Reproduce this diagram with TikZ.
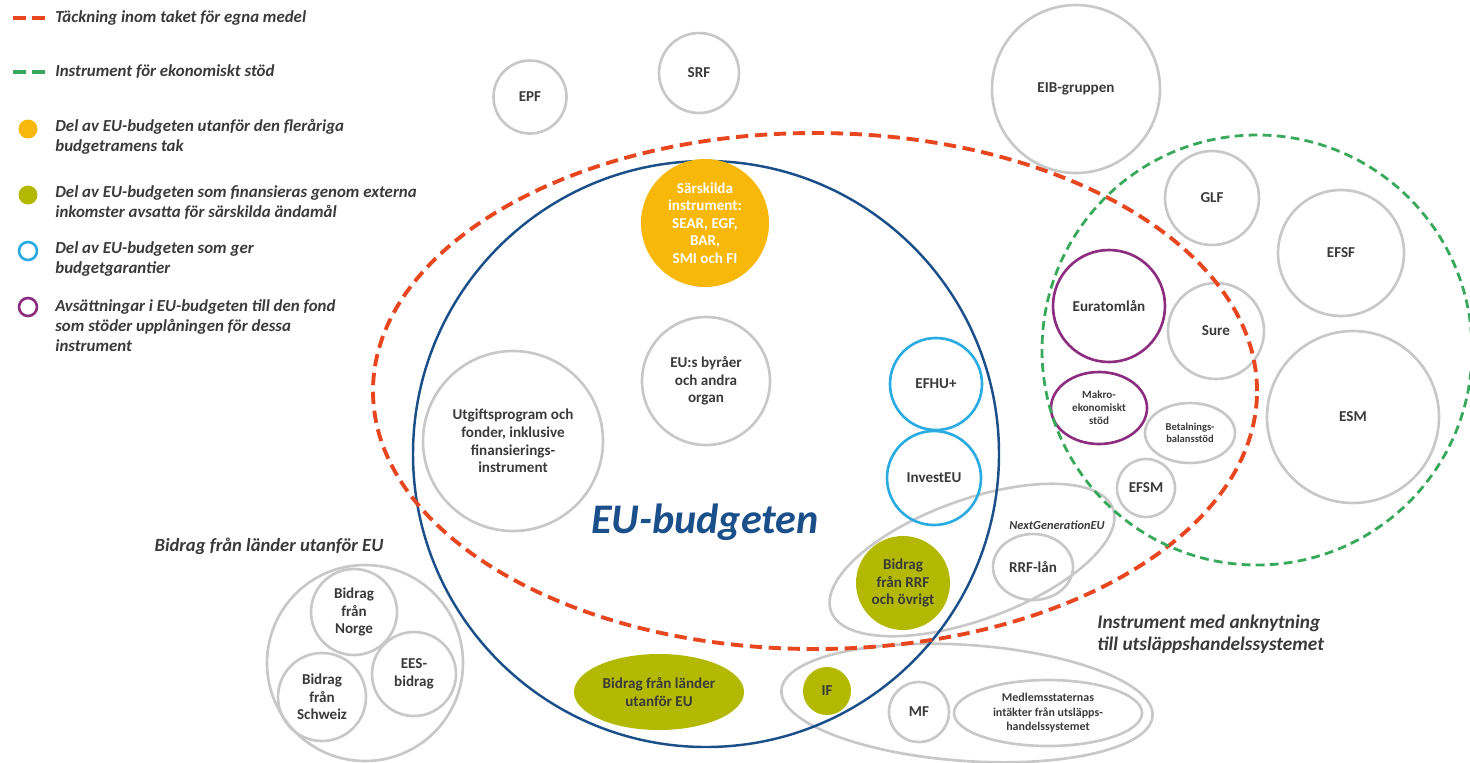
\documentclass[tikz,border=0pt]{standalone}
\usepackage{fontspec}
\setmainfont{Carlito}
\usepackage{xcolor}
\usetikzlibrary{shapes.geometric}
\definecolor{txtgray}{HTML}{3A3A3A}
\definecolor{ringgray}{HTML}{C8C8C8}
\definecolor{eublue}{HTML}{1B4F8A}
\definecolor{ceilred}{HTML}{E8461E}
\definecolor{aidgreen}{HTML}{38A95A}
\definecolor{specorange}{HTML}{F8B80A}
\definecolor{extolive}{HTML}{B3B900}
\definecolor{guarcyan}{HTML}{2AACE2}
\definecolor{provpurple}{HTML}{8D2D7F}

\begin{document}
\begin{tikzpicture}[x=0.02cm, y=-0.02cm,
            dia/.style={minimum size=#1*0.02cm},
            oval/.style 2 args={ellipse, minimum width=#1*0.02cm, minimum height=#2*0.02cm},
            ring/.style={draw=ringgray, line width=1.5pt, circle, inner sep=0pt, align=center, text=txtgray, font=\fontsize{8.6}{10}\selectfont\bfseries},
            small/.style={font=\fontsize{6.3}{7.4}\selectfont\bfseries},
            blob/.style={ring, draw=none},
            ceil/.style={draw=ceilred, line width=2.2pt, dash pattern=on 7pt off 3.8pt},
            aid/.style={draw=aidgreen, line width=1.6pt, dash pattern=on 5pt off 3pt},
            legdash/.style={line width=2.2pt, dash pattern=on 7.4pt off 3.4pt},
            legtext/.style={anchor=west, align=left, inner sep=0pt, text=txtgray, font=\fontsize{9.6}{11.4}\selectfont\bfseries\itshape},
            grouptext/.style={align=left, inner sep=0pt, text=txtgray, font=\fontsize{11}{12.5}\selectfont\bfseries\itshape}]
    \useasboundingbox (0,0) rectangle (1470,762);

    % legend
    \draw[ceil, legdash] (13,18) -- (45,18);
    \node[legtext] (legceil) at (55,18) {Täckning inom taket för egna medel};
    \draw[aid, legdash] (13,72) -- (45,72);
    \node[legtext] (legaid) at (55,72) {Instrument för ekonomiskt stöd};
    \node[circle, fill=specorange, inner sep=0pt, dia=19] (legspec) at (28,129) {};
    \node[legtext] (legspect) at (55,137) {Del av EU-budgeten utanför den fleråriga\\budgetramens tak};
    \node[circle, fill=extolive, inner sep=0pt, dia=19] (legext) at (28,195) {};
    \node[legtext] (legextt) at (55,203) {Del av EU-budgeten som finansieras genom externa\\inkomster avsatta för särskilda ändamål};
    \node[circle, draw=guarcyan, line width=1.5pt, inner sep=0pt, dia=18] (legguar) at (28,251) {};
    \node[legtext] (legguart) at (55,259) {Del av EU-budgeten som ger\\budgetgarantier};
    \node[circle, draw=provpurple, line width=1.5pt, inner sep=0pt, dia=18] (legprov) at (28,307) {};
    \node[legtext] (legprovt) at (55,326) {Avsättningar i EU-budgeten till den fond\\som stöder upplåningen för dessa\\instrument};

    % containers
    \node[ring, dia=196] (thirdc) at (365,663) {};
    \node[ring, oval={300}{120}, rotate=20] (ngeu) at (972,560) {};
    \node[ring, oval={372}{116}, rotate=-4] (etsgrp) at (967,703) {};
    \node[circle, draw=eublue, line width=1.4pt, dia=586] (eub) at (706,454) {};
    \node[text=eublue, font=\fontsize{24}{27}\selectfont\bfseries\itshape] (eubt) at (705,522) {EU-budgeten};

    % outside the budget
    \node[ring, dia=73] (epf) at (530,97) {EPF};
    \node[ring, dia=80] (srf) at (699,73) {SRF};
    \node[ring, dia=168] (eib) at (1076,89) {EIB-gruppen};

    % inside the budget
    \node[blob, fill=specorange, text=white, dia=128] (spec) at (705,223) {Särskilda\\instrument:\\SEAR, EGF,\\BAR,\\SMI och FI};
    \node[ring, dia=128] (agencies) at (706,381) {EU:s byråer\\och andra\\organ};
    \node[ring, dia=180] (progs) at (513,441) {Utgiftsprogram och\\fonder, inklusive\\finansierings-\\instrument};
    \node[ring, draw=guarcyan, dia=92] (efhu) at (936,384) {EFHU+};
    \node[ring, draw=guarcyan, dia=94] (invest) at (934,478) {InvestEU};
    \node[blob, fill=extolive, dia=94] (rrfgr) at (903,583) {Bidrag\\från RRF\\och övrigt};
    \node[blob, fill=extolive, oval={170}{76}] (thirdb) at (659,692) {Bidrag från länder\\utanför EU};
    \node[ring, oval={80}{66}] (rrfloan) at (1033,567) {RRF-lån};
    \node[text=txtgray, font=\fontsize{7}{8}\selectfont\bfseries\itshape] (ngeut) at (1057,525) {NextGenerationEU};

    % third countries
    \node[grouptext, font=\fontsize{10.6}{12}\selectfont\bfseries\itshape] (thirdt) at (269,546) {Bidrag från länder utanför EU};
    \node[ring, dia=86] (norway) at (354,612) {Bidrag\\från\\Norge};
    \node[ring, dia=84] (eea) at (414,674) {EES-\\bidrag};
    \node[ring, dia=88] (swiss) at (322,697) {Bidrag\\från\\Schweiz};

    % emissions trading
    \node[blob, fill=extolive, dia=48] (innov) at (827,691) {IF};
    \node[ring, dia=60] (modern) at (919,712) {MF};
    \node[ring, small, oval={188}{66}, font=\fontsize{6.8}{8.2}\selectfont\bfseries] (msrev) at (1048,713) {Medlemsstaternas\\intäkter från utsläpps-\\handelssystemet};
    \node[grouptext, anchor=west] (etst) at (1097,634) {Instrument med anknytning\\till utsläppshandelssystemet};

    % financial assistance
    \node[ring, dia=94] (glf) at (1212,198) {GLF};
    \node[ring, dia=126] (efsf) at (1341,253) {EFSF};
    \node[ring, draw=provpurple, dia=112] (euratom) at (1109,306) {Euratomlån};
    \node[ring, dia=96] (sure) at (1216,331) {Sure};
    \node[ring, dia=172] (esm) at (1353,417) {ESM};
    \node[ring, small, draw=provpurple, oval={96}{72}] (macro) at (1099,408) {Makro-\\ekonomiskt\\stöd};
    \node[ring, small, oval={90}{60}, font=\fontsize{6}{7}\selectfont\bfseries] (bop) at (1190,433) {Betalnings-\\balansstöd};
    \node[ring, dia=58] (efsm) at (1146,488) {EFSM};

    % ceiling and support areas
    \node[ellipse, ceil, inner sep=0pt, minimum width=884*0.02cm, minimum height=516*0.02cm] (ceiling) at (815,391) {};
    \node[circle, aid, inner sep=0pt, dia=430] (aidzone) at (1257,350) {};
\end{tikzpicture}
\end{document}
